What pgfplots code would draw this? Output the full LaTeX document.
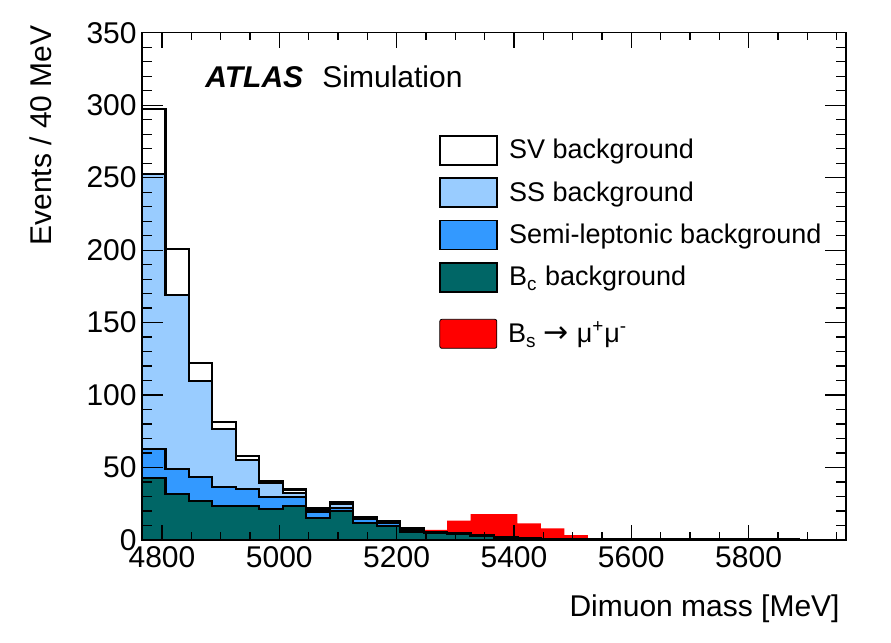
\documentclass[border=0pt]{standalone}
\usepackage{pgfplots}
\usepackage{pgfplotstable}
\pgfplotsset{compat=1.18}
\usepackage{fontspec}
\setmainfont{Liberation Sans}
\newfontfamily\dejavu{DejaVu Sans}
\definecolor{ssblue}{HTML}{99CCFF}
\definecolor{slblue}{HTML}{3399FF}
\definecolor{bcteal}{HTML}{006666}
\newcommand{\lstrut}{\rule[-3bp]{0pt}{13bp}}

\pgfplotstableread{
x sig sv ss sl bc
4766 0.3 297.3 252.3 63.0 42.6
4806 0.3 200.8 169.0 48.8 31.7
4846 0.3 121.9 109.7 43.3 27.1
4886 0.3 81.6 76.4 36.8 23.7
4926 0.3 57.9 55.2 35.2 23.7
4966 0.3 40.3 39.6 29.9 21.4
5006 0.3 34.8 32.2 29.9 23.7
5046 0.3 21.8 21.0 19.6 15.0
5086 0.3 25.9 24.9 22.3 20.2
5126 0.3 16.0 15.3 14.8 11.5
5166 0.5 13.0 12.3 11.5 9.6
5206 2.5 8.3 7.5 6.6 5.7
5246 6.9 5.3 5.1 5.0 4.6
5286 13.3 4.6 4.4 4.3 4.0
5326 17.9 3.4 3.3 3.2 3.0
5366 17.9 1.8 1.6 1.5 1.4
5406 11.5 1.1 1.0 0.9 0.8
5446 8.0 0.8 0.7 0.6 0.5
5486 3.4 0.8 0.7 0.6 0.6
5526 1.2 0.5 0.4 0.3 0.3
5566 0.6 0.4 0.3 0.3 0.2
5606 0.3 0.4 0.3 0.2 0.2
5646 0.3 0.3 0.2 0.2 0.1
5686 0.3 0.5 0.4 0.3 0.2
5726 0.3 0.3 0.2 0.2 0.1
5766 0.3 0.3 0.2 0.2 0.1
5806 0.3 0.3 0.2 0.2 0.1
5846 0.3 0.3 0.2 0.2 0.1
5886 0.3 0.2 0.2 0.1 0.1
5926 0.3 0.2 0.2 0.1 0.1
5966 0.3 0.2 0.2 0.1 0.1
}\histdata

\pgfplotsset{
  common/.style={
    at={(0,0)}, anchor=south west,
    scale only axis, width=352bp, height=253.65bp,
    xmin=4766, xmax=5966, ymin=0, ymax=350,
    axis on top,
    axis line style={line width=0.6bp},
    every tick/.style={line width=0.6bp, black},
    tick align=inside, tick pos=both,
    /pgf/number format/assume math mode=true,
    /pgf/number format/1000 sep={},
    ticklabel style={font=\fontsize{15bp}{18bp}\selectfont},
    label style={font=\fontsize{15bp}{18bp}\selectfont},
    legend image code/.code={\draw[##1] (0bp,-7.25bp) rectangle (28.5bp,7.25bp);},
    legend cell align=left,
  },
}

\begin{document}
\begin{tikzpicture}
\path[use as bounding box] (-71bp,-51.5bp) rectangle (374.5bp,270bp);
\begin{axis}[common,
  xtick=\empty,
  ytick={0,50,...,350},
  minor ytick={0,10,...,350},
  major tick length=10.5bp, minor tick length=5.25bp,
  yticklabel style={anchor=east, inner sep=0pt, xshift=-2.5bp},
  ylabel={Events / 40 MeV},
  ylabel style={at={(axis description cs:-0.1283,1.0152)}, anchor=base east, inner sep=0pt},
  legend style={at={(rel axis cs:0.4219,0.7995)}, anchor=north west, draw=none, fill=none,
    inner sep=0pt, row sep=5.8bp, column sep=5.5bp,
    nodes={inner sep=0pt}, font=\fontsize{13.5bp}{16bp}\selectfont},
]
\addplot[const plot, fill=red, draw=none, forget plot] table[x=x, y=sig] {\histdata} \closedcycle;
\addplot[const plot, fill=white, draw=black, line width=1.1bp, forget plot] table[x=x, y=sv] {\histdata} \closedcycle;
\addplot[const plot, fill=ssblue, draw=black, line width=1.1bp, forget plot] table[x=x, y=ss] {\histdata} \closedcycle;
\addplot[const plot, fill=slblue, draw=black, line width=1.1bp, forget plot] table[x=x, y=sl] {\histdata} \closedcycle;
\addplot[const plot, fill=bcteal, draw=black, line width=1.1bp, forget plot] table[x=x, y=bc] {\histdata} \closedcycle;

\addlegendimage{fill=white, draw=black, line width=0.9bp}
\addlegendentry{\lstrut SV background}
\addlegendimage{fill=ssblue, draw=black, line width=0.9bp}
\addlegendentry{\lstrut SS background}
\addlegendimage{fill=slblue, draw=black, line width=0.9bp}
\addlegendentry{\lstrut Semi-leptonic background}
\addlegendimage{fill=bcteal, draw=black, line width=0.9bp}
\addlegendentry{\lstrut B\textsubscript{c} background}

\node[anchor=base west, inner sep=0pt, font=\fontsize{15bp}{18bp}\selectfont\bfseries\itshape] at (rel axis cs:0.0895,0.8924) {ATLAS};
\node[anchor=base west, inner sep=0pt, font=\fontsize{15bp}{18bp}\selectfont] at (rel axis cs:0.2557,0.8924) {Simulation};
\end{axis}

\begin{axis}[common,
  ytick=\empty,
  xtick={4800,5000,...,5800},
  minor xtick={4750,4800,...,5950},
  major tick length=7.5bp, minor tick length=3.75bp,
  xticklabel style={anchor=north, inner sep=0pt, yshift=-3bp},
  xlabel={Dimuon mass [MeV]},
  xlabel style={at={(axis description cs:0.9915,-0.1512)}, anchor=base east, inner sep=0pt},
  legend style={at={(rel axis cs:0.4219,0.4366)}, anchor=north west, draw=none, fill=none,
    inner sep=0pt, row sep=5.8bp, column sep=5.5bp,
    nodes={inner sep=0pt}, font=\fontsize{13.5bp}{16bp}\selectfont},
]
\addlegendimage{fill=red, draw=none, rounded corners=1bp}
\addlegendentry{\lstrut B\textsubscript{s}\hspace{3.5bp}{\dejavu\fontsize{15bp}{16bp}\selectfont →}\hspace{4bp}μ\textsuperscript{+}μ\textsuperscript{-}}
\end{axis}
\end{tikzpicture}
\end{document}
